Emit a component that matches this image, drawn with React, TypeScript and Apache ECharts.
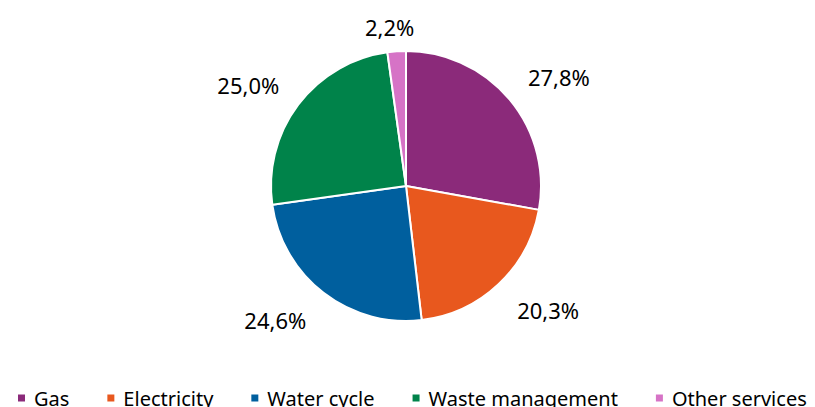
import React, { useEffect, useRef } from "react";
import * as echarts from "echarts";

const categories = ["Gas", "Electricity", "Water cycle", "Waste management", "Other services"];
const values = [27.8, 20.3, 24.6, 25.0, 2.2];
const colors = ["#8B2A7A", "#E8581E", "#005F9E", "#00834A", "#D673C6"];
const labelShift = [
  [-2, -10],
  [0, 11],
  [0, 11],
  [2, -8],
  [24, -4],
];

export default function App() {
  const ref = useRef<HTMLDivElement>(null);
  useEffect(() => {
    if (!ref.current) return;
    const chart = echarts.init(ref.current, undefined, { renderer: "svg" });
    chart.setOption({
      animation: false,
      backgroundColor: "#ffffff",
      textStyle: { fontFamily: "Noto Sans" },
      legend: {
        data: categories,
        left: 11,
        top: 383,
        width: 804,
        icon: "rect",
        itemWidth: 9,
        itemHeight: 9,
        itemGap: 36,
        textStyle: { fontSize: 20, color: "#000", fontFamily: "Noto Sans", padding: [0, 0, 0, 3] },
      },
      series: [
        {
          type: "pie",
          center: [406, 186],
          radius: 135,
          startAngle: 90,
          clockwise: true,
          avoidLabelOverlap: false,
          itemStyle: { borderColor: "#ffffff", borderWidth: 2 },
          label: {
            show: true,
            position: "outside",
            fontSize: 22,
            color: "#000",
            fontFamily: "Noto Sans",
            formatter: (p: any) => p.value.toFixed(1).replace(".", ",") + "%",
          },
          labelLine: { show: false, length: 20, length2: 0 },
          labelLayout: (p: any) => ({ dx: labelShift[p.dataIndex][0], dy: labelShift[p.dataIndex][1] }),
          data: categories.map((c, i) => ({ name: c, value: values[i], itemStyle: { color: colors[i] } })),
        },
      ],
    });
    return () => chart.dispose();
  }, []);
  return <div ref={ref} style={{ position: "fixed", left: 0, top: 0, width: 815, height: 407 }} />;
}
